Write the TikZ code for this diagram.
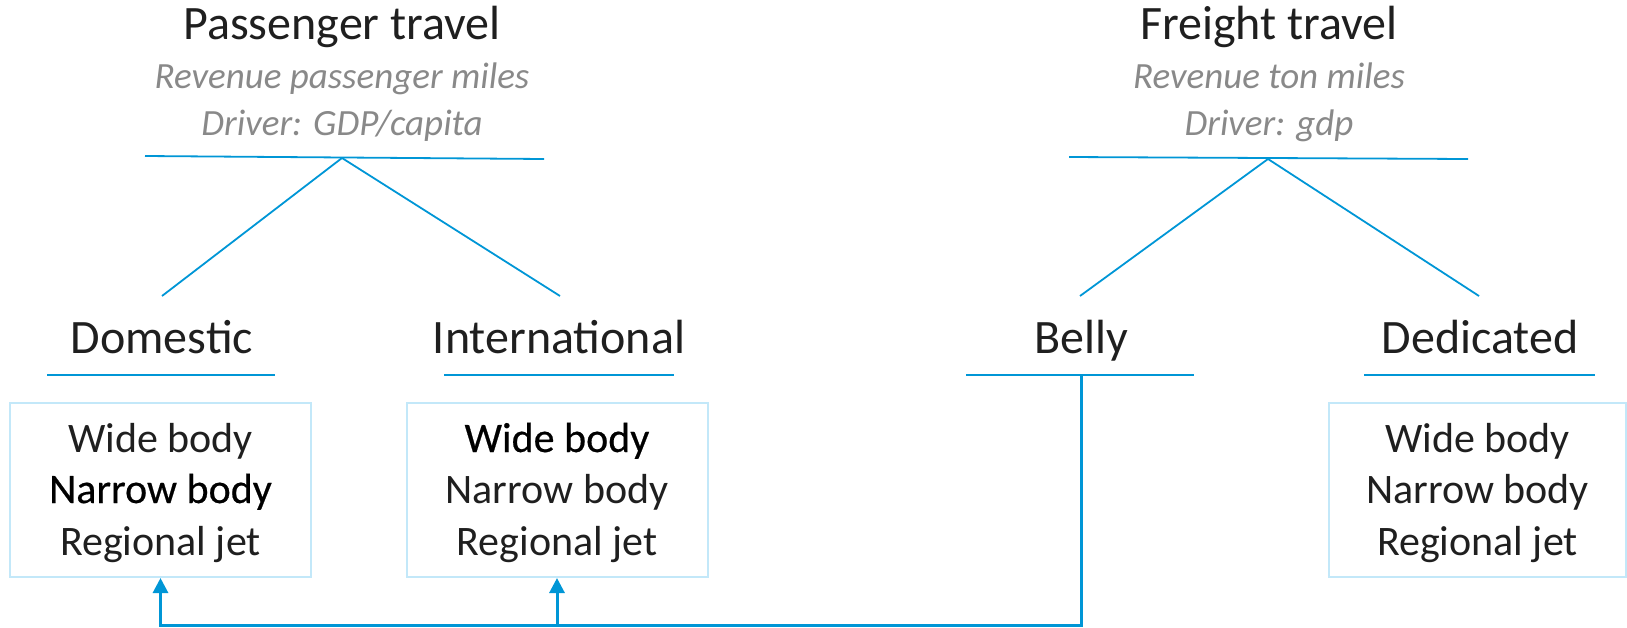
\documentclass[tikz,border=0pt]{standalone}
\usepackage{fontspec}
\setmainfont{Carlito}
\newfontface\heavy[FakeBold=0.5]{Carlito}
\usetikzlibrary{arrows.meta}
\definecolor{cblue}{RGB}{0,150,214}
\definecolor{lblue}{RGB}{195,232,249}
\definecolor{subgray}{RGB}{137,137,137}
\begin{document}
\begin{tikzpicture}[x=1pt,y=-1pt,
  title/.style={anchor=base,inner sep=0pt,font=\fontsize{48}{58}\selectfont,text=black!88},
  sub/.style={anchor=base,inner sep=0pt,font=\fontsize{37}{44}\selectfont\itshape,text=subgray},
  cat/.style={anchor=base,inner sep=0pt,font=\fontsize{48}{58}\selectfont,text=black!88},
  item/.style={anchor=base,inner sep=0pt,font=\fontsize{42}{50}\selectfont,text=black!88},
  hitem/.style={anchor=base,inner sep=0pt,font=\fontsize{42}{50}\selectfont\heavy,text=black},
  rule/.style={draw=cblue,line width=1.8pt},
  box/.style={draw=lblue,line width=2pt,rectangle,minimum width=301pt,minimum height=174pt,inner sep=0pt},
  conn/.style={draw=cblue,line width=3pt},
  tip/.style={-{Triangle[width=15pt,length=15pt]}}
]
\useasboundingbox (0,0) rectangle (1627,627);
% Passenger tree
\node[title] (pt) at (342,39) {Passenger travel};
\node[sub] (ps1) at (342,88) {Revenue passenger miles};
\node[sub] (ps2) at (342,135) {Driver: GDP/capita};
\coordinate (pl1) at (145,156);
\coordinate (pl2) at (544,159);
\coordinate (pa) at (342,158);
\coordinate (pd) at (162,296);
\coordinate (pi) at (560,296);
\draw[rule] (pl1) -- (pl2);
\draw[rule] (pa) -- (pd);
\draw[rule] (pa) -- (pi);
% Freight tree
\node[title] (ft) at (1269,39) {Freight travel};
\node[sub] (fs1) at (1269,88) {Revenue ton miles};
\node[sub] (fs2) at (1269,135) {Driver: gdp};
\coordinate (fl1) at (1069,157);
\coordinate (fl2) at (1468,159);
\coordinate (fa) at (1268,159);
\coordinate (fb) at (1080,296);
\coordinate (fd) at (1479,296);
\draw[rule] (fl1) -- (fl2);
\draw[rule] (fa) -- (fb);
\draw[rule] (fa) -- (fd);
% Categories
\node[cat] (dom) at (162,353) {Domestic};
\node[cat] (intl) at (559,353) {International};
\node[cat] (bel) at (1081,353) {Belly};
\node[cat] (ded) at (1480,353) {Dedicated};
\coordinate (dl1) at (47,375); \coordinate (dl2) at (275,375);
\coordinate (il1) at (444,375); \coordinate (il2) at (674,375);
\coordinate (bl1) at (966,375); \coordinate (bl2) at (1194,375);
\coordinate (el1) at (1364,375); \coordinate (el2) at (1595,375);
\draw[rule] (dl1) -- (dl2);
\draw[rule] (il1) -- (il2);
\draw[rule] (bl1) -- (bl2);
\draw[rule] (el1) -- (el2);
% Boxes
\node[box] (dbox) at (160.5,490) {};
\node[box] (ibox) at (557,490) {};
\node[box, minimum width=297pt] (ebox) at (1477.5,490) {};
\node[item] (d1) at (160.5,452) {Wide body};
\node[hitem] (d2) at (160.5,503) {Narrow body};
\node[item] (d3) at (160.5,555) {Regional jet};
\node[hitem] (i1) at (557,452) {Wide body};
\node[item] (i2) at (557,503) {Narrow body};
\node[item] (i3) at (557,555) {Regional jet};
\node[item] (e1) at (1477.5,452) {Wide body};
\node[item] (e2) at (1477.5,503) {Narrow body};
\node[item] (e3) at (1477.5,555) {Regional jet};
% Connector
\coordinate (bmid) at (1081,375);
\coordinate (bot) at (1081,625);
\draw[conn,tip] (bmid) -- (bot) -| (dbox.south);
\draw[conn,tip] (ibox.south |- bot) -- (ibox.south);
\end{tikzpicture}
\end{document}
